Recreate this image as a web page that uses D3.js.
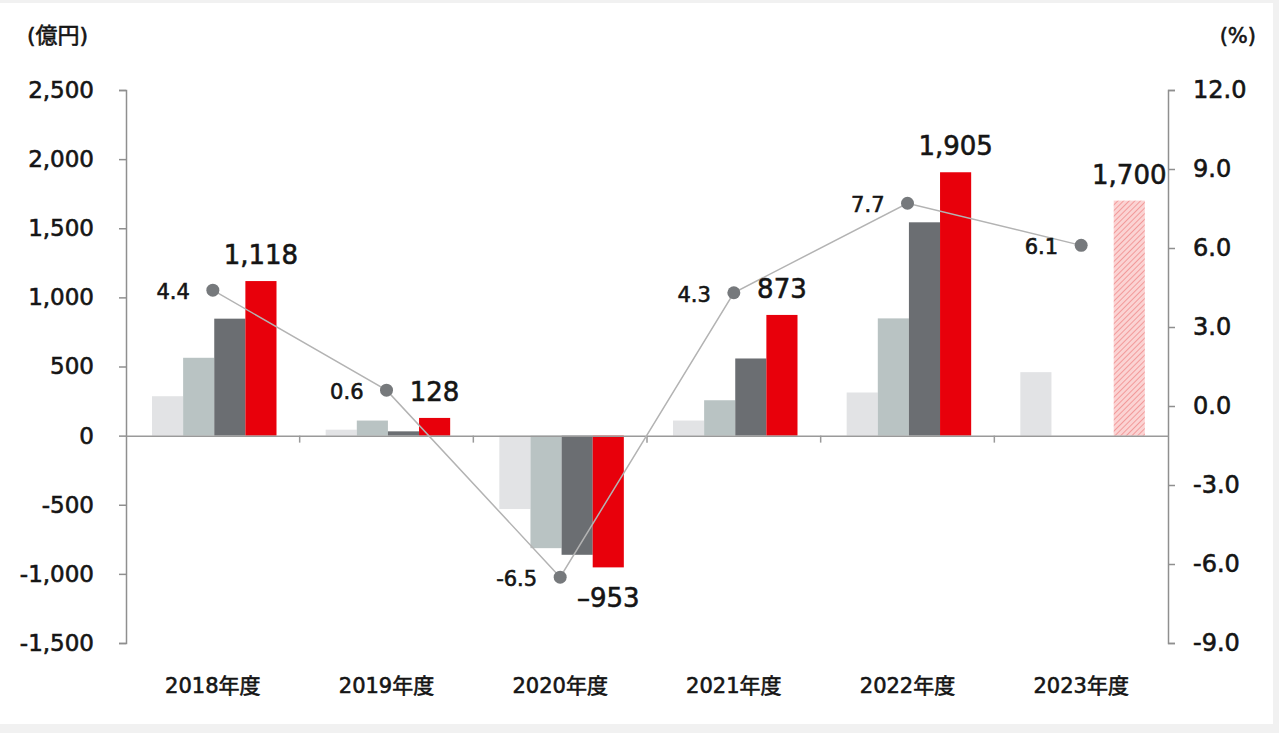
<!DOCTYPE html>
<html>
<head>
<meta charset="utf-8">
<script src="https://cdn.jsdelivr.net/npm/d3@7"></script>
<style>
  body { margin: 0; background: #f1f1f1; }
</style>
</head>
<body>
<div id="chart"></div>
<script>
// data
const years = ["2018年度", "2019年度", "2020年度", "2021年度", "2022年度", "2023年度"];
const q1 = [285, 43, -531, 109, 312, 459];
const h1 = [563, 109, -814, 256, 848, null];
const q3 = [846, 31, -862, 558, 1543, null];
const fullYear = [1118, 128, -953, 873, 1905, null];
const forecast = [null, null, null, null, null, 1700];
const growth = [4.4, 0.6, -6.5, 4.3, 7.7, 6.1];
const leftTicks = [-1500, -1000, -500, 0, 500, 1000, 1500, 2000, 2500];
const rightTicks = [-9, -6, -3, 0, 3, 6, 9, 12];

const W = 1279, H = 733;
const plot = {left: 126, right: 1168, top: 90, bottom: 643};
const FONT = '"DejaVu Sans", "Noto Sans CJK JP", sans-serif';
const INK = "#151515";

const svg = d3.select("#chart").append("svg")
    .attr("width", W)
    .attr("height", H);

// white panel, thin grey frame at the edges
svg.append("rect")
    .attr("x", 0).attr("y", 3)
    .attr("width", 1273).attr("height", 721)
    .attr("fill", "#fff");

// hatch for the forecast bar
const pat = svg.append("defs").append("pattern")
    .attr("id", "hatch")
    .attr("patternUnits", "userSpaceOnUse")
    .attr("width", 4).attr("height", 4)
    .attr("patternTransform", "rotate(45)");
pat.append("rect").attr("width", 4).attr("height", 4).attr("fill", "#fbd3d3");
pat.append("line").attr("x1", 0).attr("y1", 0).attr("x2", 0).attr("y2", 4)
    .attr("stroke", "#f29a9a").attr("stroke-width", 2);

// scales
const x = d3.scaleBand().domain(years).range([plot.left, plot.right]);
const xs = d3.scaleBand().domain([0, 1, 2, 3]).range([26, 150.5]);
const yL = d3.scaleLinear().domain([-1500, 2500]).range([plot.bottom, plot.top]);
const yR = d3.scaleLinear().domain([-9, 12]).range([plot.bottom, plot.top]);

const fmt = d => d3.format(",")(d).replace("−", "-");
const fmt1 = d => d3.format(".1f")(d).replace("−", "-");

// normal weight, thickened a little with a thin stroke
function styleText(sel, size) {
  sel.style("font-family", FONT)
     .style("font-size", size + "px")
     .style("font-weight", "normal")
     .attr("fill", INK)
     .attr("stroke", INK)
     .attr("stroke-width", 0.6);
}

// left axis
const gL = svg.append("g")
    .attr("transform", `translate(${plot.left},0)`)
    .call(d3.axisLeft(yL).tickValues(leftTicks).tickSize(7).tickPadding(25).tickFormat(fmt));
gL.select(".domain").attr("stroke", "#8f8f8f").attr("stroke-width", 1.5);
gL.selectAll(".tick line").attr("stroke", "#8f8f8f").attr("stroke-width", 1.5);
styleText(gL.selectAll(".tick text"), 23);

// right axis
const gR = svg.append("g")
    .attr("transform", `translate(${plot.right},0)`)
    .call(d3.axisRight(yR).tickValues(rightTicks).tickSize(7).tickPadding(18).tickFormat(fmt1));
gR.select(".domain").attr("stroke", "#8f8f8f").attr("stroke-width", 1.5);
gR.selectAll(".tick line").attr("stroke", "#8f8f8f").attr("stroke-width", 1.5);
styleText(gR.selectAll(".tick text"), 24);

// bars
const seriesList = [
  {vals: q1, fill: "#e2e3e5", slot: 0},
  {vals: h1, fill: "#b9c3c3", slot: 1},
  {vals: q3, fill: "#6b6e72", slot: 2},
  {vals: fullYear, fill: "#e8000b", slot: 3},
  {vals: forecast, fill: "url(#hatch)", slot: 3}
];
seriesList.forEach(s => {
  svg.append("g").selectAll("rect")
    .data(years.map((y, j) => ({y, v: s.vals[j]})).filter(d => d.v !== null))
    .enter().append("rect")
    .attr("x", d => x(d.y) + xs(s.slot))
    .attr("width", xs.bandwidth())
    .attr("y", d => yL(Math.max(0, d.v)))
    .attr("height", d => Math.abs(yL(d.v) - yL(0)))
    .attr("fill", s.fill);
});

// zero line with category separators
const gX = svg.append("g")
    .attr("transform", `translate(0,${yL(0)})`)
    .call(d3.axisBottom(x).tickSize(0).tickFormat(""));
gX.select(".domain").attr("stroke", "#9a9a9a").attr("stroke-width", 1.5);
gX.selectAll(".sep")
    .data(years.slice(1))
    .enter().append("line")
    .attr("x1", d => x(d)).attr("x2", d => x(d))
    .attr("y1", 0).attr("y2", 7)
    .attr("stroke", "#9a9a9a").attr("stroke-width", 1.5);

// category labels
svg.append("g").selectAll("text")
    .data(years)
    .enter().append("text")
    .attr("x", d => x(d) + x.bandwidth() / 2)
    .attr("y", 693)
    .attr("text-anchor", "middle")
    .text(d => d)
    .call(styleText, 21);

// growth line
const cx = (d, i) => x(years[i]) + x.bandwidth() / 2;
svg.append("path")
    .datum(growth)
    .attr("fill", "none")
    .attr("stroke", "#b3b3b3")
    .attr("stroke-width", 1.5)
    .attr("d", d3.line().x(cx).y(d => yR(d)));
svg.append("g").selectAll("circle")
    .data(growth)
    .enter().append("circle")
    .attr("cx", cx)
    .attr("cy", d => yR(d))
    .attr("r", 6.5)
    .attr("fill", "#76797c");
svg.append("g").selectAll("text")
    .data(growth)
    .enter().append("text")
    .attr("x", (d, i) => cx(d, i) - 23)
    .attr("y", d => yR(d) + 9)
    .attr("text-anchor", "end")
    .text(fmt1)
    .call(styleText, 21);

// value labels for full year and forecast
const barLabels = years.map((y, j) => ({y, v: fullYear[j] !== null ? fullYear[j] : forecast[j]}));
svg.append("g").selectAll("text")
    .data(barLabels)
    .enter().append("text")
    .attr("x", d => x(d.y) + xs(3) + xs.bandwidth() / 2)
    .attr("y", d => d.v >= 0 ? yL(d.v) - 17 : yL(d.v) + 40)
    .attr("text-anchor", "middle")
    .text(d => d.v < 0 ? "–" + d3.format(",")(-d.v) : d3.format(",")(d.v))
    .call(styleText, 26);

// unit labels
svg.append("text").attr("x", 27).attr("y", 43).text("(億円)").call(styleText, 22);
svg.append("text").attr("x", 1256).attr("y", 43).attr("text-anchor", "end").text("(%)").call(styleText, 21);
</script>
</body>
</html>
